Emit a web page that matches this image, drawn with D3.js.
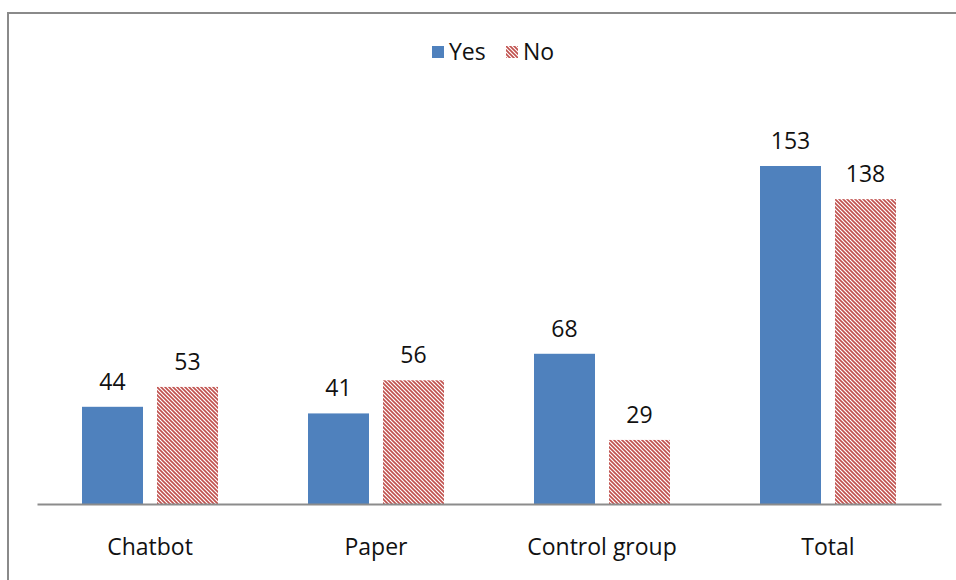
<!DOCTYPE html>
<html>
<head>
<meta charset="utf-8">
<script src="https://cdn.jsdelivr.net/npm/d3@7"></script>
<style>
  html, body { margin: 0; padding: 0; background: #fff; }
  svg { display: block; font-family: "Open Sans", Lato, "Liberation Sans", sans-serif; }
</style>
</head>
<body>
<svg id="chart" width="956" height="580"></svg>
<script>
const categories = ["Chatbot", "Paper", "Control group", "Total"];
const seriesNames = ["Yes", "No"];
const yesValues = [44, 41, 68, 153];
const noValues = [53, 56, 29, 138];

const plot = { left: 37, right: 941, bottom: 504 };
const blue = "#4F81BD", red = "#C0504D";
const fontFam = "'Open Sans', Lato, sans-serif";
const fontSize = 23;

const svg = d3.select("#chart");

// Diagonal hatch used for the "No" series
const defs = svg.append("defs");
const pat = defs.append("pattern")
  .attr("id", "hatch")
  .attr("patternUnits", "userSpaceOnUse")
  .attr("width", 4).attr("height", 4);
pat.append("rect").attr("width", 4).attr("height", 4).attr("fill", "#fff");
pat.append("path")
  .attr("d", "M-1,-1 L5,5 M-1,3 L1,5 M3,-1 L5,1")
  .attr("stroke", red).attr("stroke-width", 1.6);

// Outer frame
svg.append("rect")
  .attr("x", 8).attr("y", 13).attr("width", 970).attr("height", 600)
  .attr("fill", "none").attr("stroke", "#8a8a8a").attr("stroke-width", 2);

const x0 = d3.scaleBand().domain(categories).range([plot.left, plot.right]);
const x1 = d3.scaleBand().domain(seriesNames).range([0, 136]).paddingInner(0.1867);
const y = d3.scaleLinear().domain([0, 153]).range([plot.bottom, 166]);

const data = categories.map((c, i) => ({ cat: c, vals: [
  { key: "Yes", v: yesValues[i] }, { key: "No", v: noValues[i] } ] }));

const groups = svg.append("g").selectAll("g").data(data).join("g")
  .attr("transform", d => `translate(${x0(d.cat) + x0.bandwidth() / 2 - 68},0)`);

groups.selectAll("rect").data(d => d.vals).join("rect")
  .attr("x", d => x1(d.key))
  .attr("y", d => y(d.v))
  .attr("width", x1.bandwidth())
  .attr("height", d => plot.bottom - y(d.v))
  .attr("fill", d => d.key === "Yes" ? blue : "url(#hatch)");

groups.selectAll("text").data(d => d.vals).join("text")
  .attr("x", d => x1(d.key) + x1.bandwidth() / 2)
  .attr("y", d => y(d.v) - 17)
  .attr("text-anchor", "middle")
  .attr("font-size", fontSize).attr("fill", "#111")
  .text(d => d.v);

// Category axis
const xAxis = svg.append("g").attr("transform", `translate(0,${plot.bottom})`)
  .call(d3.axisBottom(x0).tickSize(0).tickPadding(0));
xAxis.select(".domain").attr("stroke", "#8c8c8c").attr("stroke-width", 2);
xAxis.selectAll("text")
  .attr("y", 51).attr("dy", null)
  .attr("font-size", fontSize).attr("fill", "#111")
  .attr("font-family", fontFam);

// Legend
const legend = svg.append("g");
const legItems = [
  { name: "Yes", fill: blue, sx: 432, tx: 449 },
  { name: "No", fill: "url(#hatch)", sx: 506, tx: 523 }
];
legItems.forEach(it => {
  legend.append("rect").attr("x", it.sx).attr("y", 46).attr("width", 12).attr("height", 12).attr("fill", it.fill);
  legend.append("text").attr("x", it.tx).attr("y", 60).attr("font-size", fontSize).attr("fill", "#111").text(it.name);
});
</script>
</body>
</html>
